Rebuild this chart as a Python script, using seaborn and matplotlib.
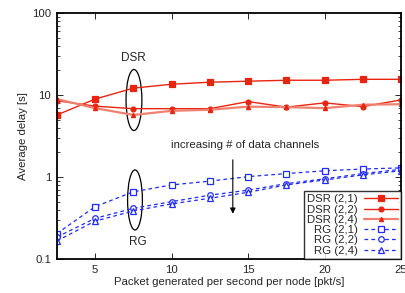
import numpy as np
import pandas as pd
import matplotlib
matplotlib.use("Agg")
import matplotlib.pyplot as plt
from matplotlib.patches import Ellipse
import seaborn as sns

# packet rate per node [pkt/s]
rate = [2.5, 5, 7.5, 10, 12.5, 15, 17.5, 20, 22.5, 25]

# average delay [s]
dsr_21 = [5.7, 8.9, 12.1, 13.5, 14.3, 14.7, 15.1, 15.1, 15.5, 15.5]
dsr_22 = [8.5, 7.3, 6.8, 6.8, 6.8, 8.3, 7.1, 8.0, 7.2, 8.7]
dsr_24 = [8.9, 6.9, 5.7, 6.4, 6.6, 7.2, 7.1, 6.9, 7.6, 7.7]
rg_21 = [0.204, 0.435, 0.66, 0.80, 0.89, 1.01, 1.10, 1.19, 1.25, 1.29]
rg_22 = [0.185, 0.313, 0.415, 0.50, 0.60, 0.69, 0.83, 0.95, 1.10, 1.24]
rg_24 = [0.166, 0.29, 0.385, 0.47, 0.55, 0.65, 0.80, 0.92, 1.06, 1.19]

labels = ['DSR (2,1)', 'DSR (2,2)', 'DSR (2,4)', 'RG (2,1)', 'RG (2,2)', 'RG (2,4)']
series = [dsr_21, dsr_22, dsr_24, rg_21, rg_22, rg_24]

sns.set_style("ticks")
plt.rcParams['font.family'] = ['Liberation Sans', 'DejaVu Sans']
fs = 8.2
plt.rcParams['font.size'] = fs

red = '#e8240f'
salmon = '#f08070'
blue = '#1f2bff'
styles = [
    dict(color=red, marker='s', ms=4.5, lw=1.0, ls='-', mfc=red),
    dict(color=red, marker='o', ms=3.5, lw=1.0, ls='-', mfc=red),
    dict(color=salmon, marker='^', ms=3.0, lw=1.6, ls='-', mfc=red, mec=red),
    dict(color=blue, marker='s', ms=4.5, lw=0.9, ls=(0, (3, 2.5)), mfc='white'),
    dict(color=blue, marker='o', ms=4.0, lw=0.9, ls=(0, (3, 2.5)), mfc='white'),
    dict(color=blue, marker='^', ms=4.0, lw=0.9, ls=(0, (3, 2.5)), mfc='white'),
]

fig = plt.figure(figsize=(4.06, 2.93), dpi=100)
ax = fig.add_axes([0.140, 0.116, 0.848, 0.840])

for lab, vals, st in zip(labels, series, styles):
    df = pd.DataFrame({'rate': rate, 'delay': vals})
    st = dict(st)
    sns.lineplot(data=df, x='rate', y='delay', ax=ax, label=lab,
                 color=st.pop('color'), marker=st.pop('marker'),
                 markersize=st.pop('ms'), linewidth=st.pop('lw'),
                 linestyle=st.pop('ls'), markerfacecolor=st.pop('mfc'),
                 markeredgecolor=st.pop('mec', None) or None,
                 markeredgewidth=0.9)

ax.set_yscale('log')
ax.set_xlim(2.5, 25)
ax.set_ylim(0.1, 100)
ax.set_xticks([5, 10, 15, 20, 25])
ax.set_xticklabels(['5', '10', '15', '20', '25'])
ax.set_yticks([0.1, 1, 10, 100])
ax.set_yticklabels(['0.1', '1', '10', '100'])
ax.tick_params(which='both', direction='in', top=True, right=True, labelsize=fs, pad=4)
ax.tick_params(which='major', length=4, width=0.7)
ax.tick_params(which='minor', length=2, width=0.6)
ax.xaxis.set_minor_locator(matplotlib.ticker.NullLocator())
for s in ax.spines.values():
    s.set_linewidth(1.3)
    s.set_color('black')

ax.set_xlabel('Packet generated per second per node [pkt/s]', fontsize=fs, labelpad=2)
ax.set_ylabel('Average delay [s]', fontsize=fs, labelpad=3)

# ellipses around the groups at x = 7.5
ax.add_patch(Ellipse((0.224, 0.646), 0.046, 0.248, transform=ax.transAxes,
                     fill=False, ec='black', lw=0.9))
ax.add_patch(Ellipse((0.227, 0.240), 0.043, 0.244, transform=ax.transAxes,
                     fill=False, ec='black', lw=0.9))
ax.text(7.5, 28, 'DSR', ha='center', va='center', fontsize=8.5)
ax.text(7.8, 0.16, 'RG', ha='center', va='center', fontsize=8.5)

ax.annotate('', xy=(14.0, 0.33), xytext=(14.0, 1.75),
            arrowprops=dict(arrowstyle='-|>', color='black', lw=0.8,
                            mutation_scale=8))
ax.text(14.8, 2.45, 'increasing # of data channels', ha='center', va='center', fontsize=fs)

leg = ax.legend(loc='lower right', markerfirst=False, frameon=True, fancybox=False,
                fontsize=fs, handlelength=3.0, handletextpad=0.5, labelspacing=0.02,
                borderpad=0.3, borderaxespad=0.0)
leg.get_frame().set_edgecolor('black')
leg.get_frame().set_linewidth(1.0)

fig.savefig('out.png', dpi=100)
